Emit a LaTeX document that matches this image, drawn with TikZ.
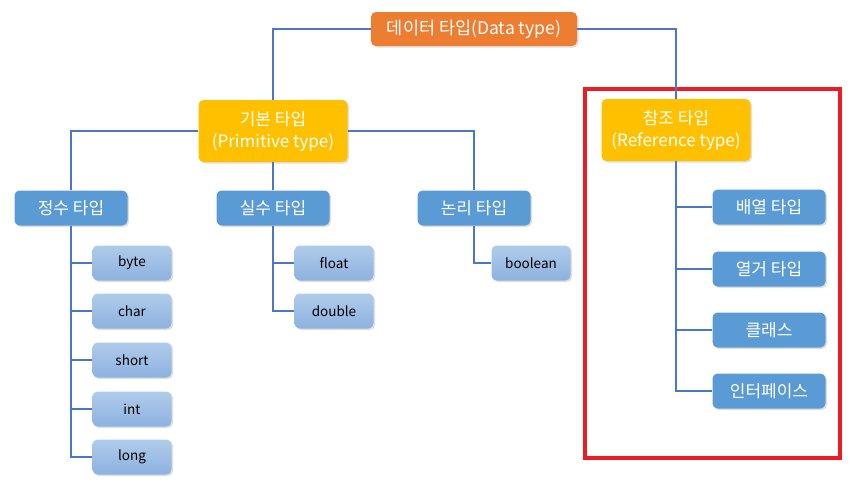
\documentclass[tikz,border=0pt]{standalone}
\usepackage{fontspec}
\setmainfont{Noto Sans CJK KR}
\usetikzlibrary{shadows}
\definecolor{topc}{HTML}{ED7D31}
\definecolor{midc}{HTML}{FFC000}
\definecolor{boxc}{HTML}{5B9BD5}
\definecolor{leaft}{HTML}{B0CBEA}
\definecolor{leafb}{HTML}{8CB2E0}
\definecolor{linec}{HTML}{4A78C8}
\definecolor{redc}{HTML}{ED1C24}
\begin{document}
\begin{tikzpicture}[x=1pt,y=-1pt]
\tikzstyle{base}=[rounded corners=5pt,inner sep=0pt,align=center,drop shadow={shadow xshift=1.5pt,shadow yshift=-1.5pt,opacity=0.25}]
\tikzstyle{rootbox}=[base,fill=topc,text=white,minimum width=206pt,minimum height=34pt,font=\fontsize{17.5}{20}\selectfont]
\tikzstyle{kindbox}=[base,fill=midc,text=white,minimum width=149pt,minimum height=62pt,font=\fontsize{17}{22}\selectfont]
\tikzstyle{groupbox}=[base,fill=boxc,text=white,minimum width=113pt,minimum height=35pt,font=\fontsize{17}{20}\selectfont]
\tikzstyle{leafbox}=[base,top color=leaft,bottom color=leafb,text=black,minimum width=79pt,minimum height=35pt,font=\fontsize{13.5}{16}\selectfont]
\tikzstyle{link}=[draw=linec,line width=1.4pt]
\useasboundingbox (0,0) rectangle (849,493);
\draw[redc,line width=4pt] (585,89) rectangle (840,458);
\node[rootbox] (dtype) at (474,29) {데이터 타입(Data type)};
\node[kindbox] (prim) at (273,131) {기본 타입\\(Primitive type)};
\node[kindbox] (refer) at (676,130) {참조 타입\\(Reference type)};
\node[groupbox] (intg) at (71,208) {정수 타입};
\node[groupbox] (real) at (273,208) {실수 타입};
\node[groupbox] (logic) at (474,208) {논리 타입};
\node[leafbox] (byte) at (132,263) {byte};
\node[leafbox] (char) at (132,311) {char};
\node[leafbox] (short) at (132,360) {short};
\node[leafbox] (int) at (132,409) {int};
\node[leafbox] (long) at (132,457) {long};
\node[leafbox] (float) at (334,263) {float};
\node[leafbox] (double) at (334,311) {double};
\node[leafbox] (bool) at (531,263) {boolean};
\node[groupbox] (arr) at (769,207) {배열 타입};
\node[groupbox] (enum) at (769,269) {열거 타입};
\node[groupbox] (cls) at (769,330) {클래스};
\node[groupbox] (iface) at (769,391) {인터페이스};
\draw[link] (dtype.west) -| (prim.north);
\draw[link] (dtype.east) -| (refer.north);
\draw[link] (prim.west) -| (intg.north);
\draw[link] (prim.east) -| (logic.north);
\draw[link] (prim.south) -- (real.north);
\foreach \leaf in {byte,char,short,int,long}
\draw[link] (intg.south) |- (\leaf.west);
\foreach \leaf in {float,double}
\draw[link] (real.south) |- (\leaf.west);
\draw[link] (logic.south) |- (bool.west);
\foreach \leaf in {arr,enum,cls,iface}
\draw[link] (refer.south) |- (\leaf.west);
\end{tikzpicture}
\end{document}
